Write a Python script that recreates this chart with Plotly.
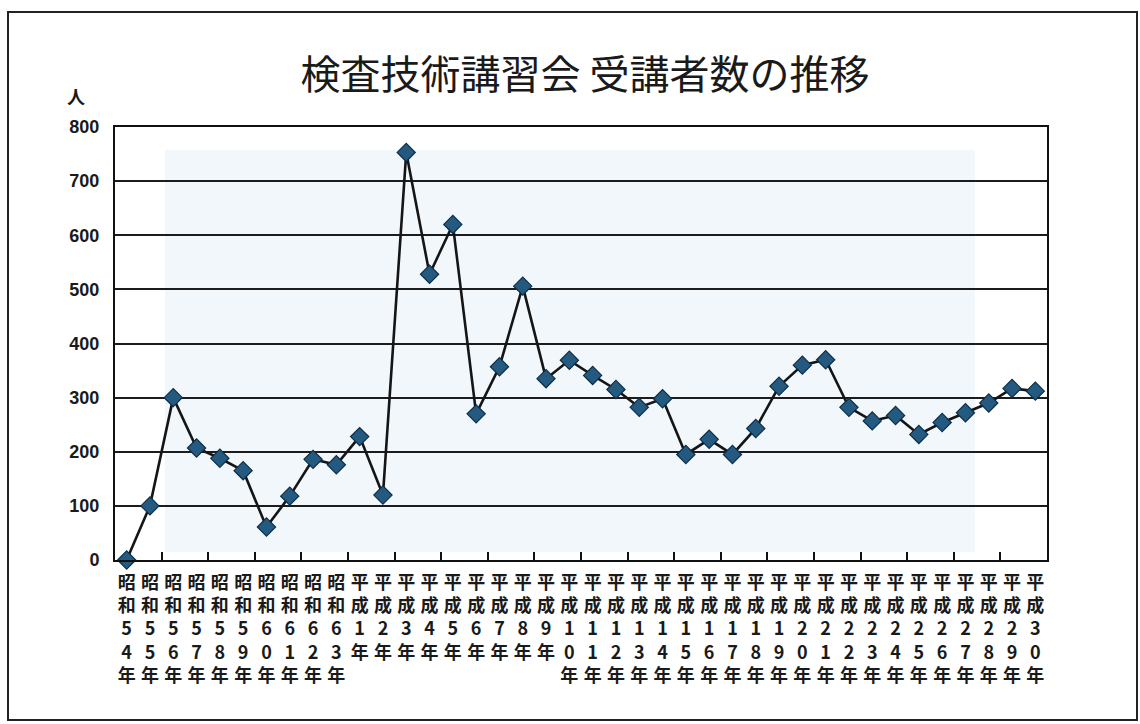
import plotly.graph_objects as go

# ---- data ----
categories = (
    [f"昭和{y}年" for y in range(54, 64)]
    + [f"平成{y}年" for y in range(1, 31)]
)
participants = [
    0, 100, 300, 207, 188, 165, 61, 118, 186, 176,
    228, 120, 753, 528, 620, 270, 357, 506, 335, 369,
    341, 315, 282, 298, 195, 223, 195, 243, 321, 360,
    370, 282, 257, 267, 232, 254, 272, 290, 317, 312,
]
y_ticks = [0, 100, 200, 300, 400, 500, 600, 700, 800]
title_text = "検査技術講習会 受講者数の推移"
y_unit = "人"

# vertical (one character per line) tick text
vertical_labels = ["<br>".join(list(c)) for c in categories]
xpos = list(range(len(categories)))

W, H = 1140, 724
L, R, T, B = 115, 93, 127, 164
pw, ph = W - L - R, H - T - B


def px2paper(xp, yp):
    return (xp - L) / pw, (H - B - yp) / ph


fig = go.Figure()
fig.add_trace(
    go.Scatter(
        x=xpos,
        y=participants,
        mode="lines+markers",
        line=dict(color="#151515", width=2.6),
        marker=dict(
            symbol="diamond",
            size=14,
            color="#245a80",
            line=dict(color="#0e2e48", width=1.2),
        ),
        cliponaxis=False,
        showlegend=False,
    )
)

# outer frame of the chart sheet
x0, y0 = px2paper(8, 12)
x1, y1 = px2paper(1137, 720)
fig.add_shape(
    type="rect", xref="paper", yref="paper",
    x0=x0, y0=y1, x1=x1, y1=y0,
    line=dict(color="#222222", width=2), layer="below",
)
# faint bluish tint inside the plot (scan tone)
tx0, ty0 = px2paper(165, 150)
tx1, ty1 = px2paper(975, 552)
fig.add_shape(
    type="rect", xref="paper", yref="paper",
    x0=tx0, y0=ty1, x1=tx1, y1=ty0,
    line=dict(width=0), fillcolor="#f1f7fb", layer="below",
)

ux, uy = px2paper(76, 96)
fig.add_annotation(
    x=ux, y=uy, xref="paper", yref="paper",
    text=y_unit, showarrow=False,
    font=dict(family="Noto Sans CJK JP", size=18, color="#1a1a1a", weight="bold"),
    xanchor="center", yanchor="middle",
)

fig.update_layout(
    width=W, height=H,
    margin=dict(l=L, r=R, t=T, b=B),
    paper_bgcolor="white",
    plot_bgcolor="rgba(0,0,0,0)",
    title=dict(
        text=title_text,
        x=585 / W, xanchor="center",
        y=1 - 75 / H, yanchor="middle",
        font=dict(family="Noto Sans CJK JP", size=40, color="#1a1a1a"),
    ),
    xaxis=dict(
        range=[-0.5, len(categories) - 0.5],
        tickmode="array",
        tickvals=xpos,
        ticktext=vertical_labels,
        ticks="",
        showgrid=False,
        zeroline=False,
        showline=True, linecolor="#111111", linewidth=2, mirror=True,
        tickfont=dict(family="Noto Sans CJK JP", size=18, color="#1a1a1a", weight="bold"),
        tickangle=0,
        ticklabelstandoff=5,
        minor=dict(
            tickmode="array",
            tickvals=[i + 0.5 for i in range(1, len(categories) - 1, 2)],
            ticks="inside", ticklen=8, tickwidth=1.5, tickcolor="#111111",
            showgrid=False,
        ),
    ),
    yaxis=dict(
        range=[0, 800],
        tickmode="array",
        tickvals=y_ticks,
        ticks="",
        showgrid=True, gridcolor="#1c1c1c", gridwidth=1.5,
        zeroline=False,
        showline=True, linecolor="#111111", linewidth=2, mirror=True,
        tickfont=dict(family="Liberation Sans, Arial", size=18, color="#1a1a1a", weight="bold"),
        ticklabelstandoff=10,
    ),
)

fig.write_html("out.html")
